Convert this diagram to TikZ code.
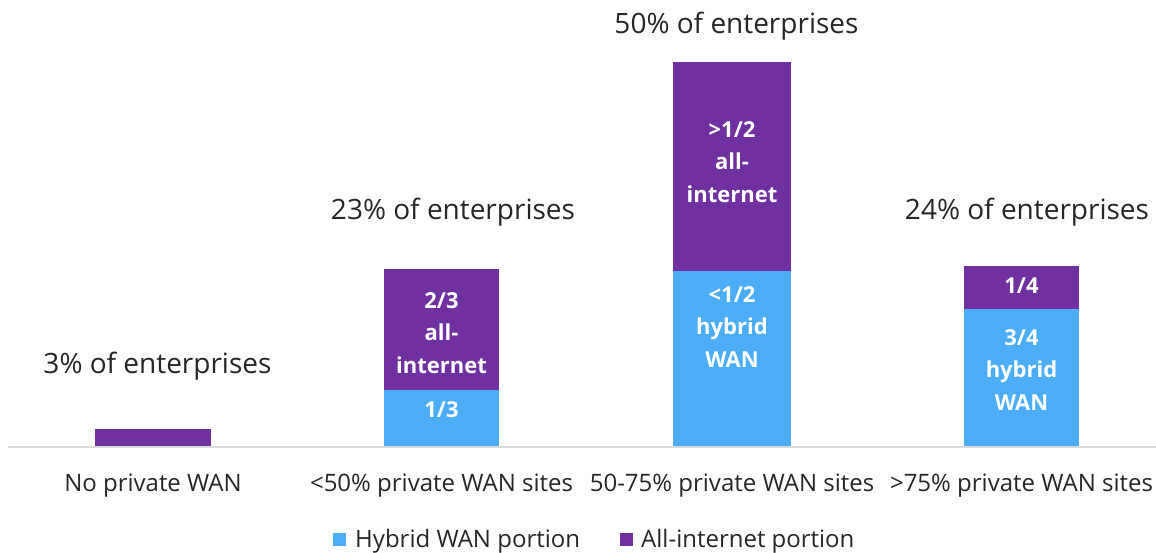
\documentclass[tikz,border=0pt]{standalone}
\usepackage{fontspec}
\setmainfont{Open Sans}
\definecolor{hyb}{HTML}{4BACF8}
\definecolor{alli}{HTML}{7030A0}
\definecolor{axisgray}{HTML}{D9D9D9}
\begin{document}
\begin{tikzpicture}[x=1pt,y=-1pt,
  barlbl/.style={text=white,font=\fontsize{22}{32.5}\selectfont\bfseries,align=center,inner sep=0pt},
  toplbl/.style={anchor=base,inner sep=0pt,font=\fontsize{28}{30}\selectfont,text=black!85},
  catlbl/.style={anchor=base,inner sep=0pt,font=\fontsize{24}{26}\selectfont,text=black!85},
  leglbl/.style={anchor=base west,inner sep=0pt,font=\fontsize{24}{26}\selectfont,text=black!85}]
\useasboundingbox (0,0) rectangle (1156,552);
% axis
\draw[axisgray,line width=2pt] (8,446.5) -- (1156,446.5);
% bar 1
\fill[alli] (95,429) rectangle (211,445.5);
% bar 2
\fill[hyb] (384,390) rectangle (499,445.5);
\fill[alli] (384,269) rectangle (499,390);
% bar 3
\fill[hyb] (673,271) rectangle (791,445.5);
\fill[alli] (673,62) rectangle (791,271);
% bar 4
\fill[hyb] (964,309) rectangle (1079,445.5);
\fill[alli] (964,266) rectangle (1079,309);
% bar labels
\node[barlbl] (l2a) at (441.5,333) {2/3\\all-\\internet};
\node[barlbl] (l2h) at (441.5,410) {1/3};
\node[barlbl] (l3a) at (732,162) {>1/2\\all-\\internet};
\node[barlbl] (l3h) at (732,327) {<1/2\\hybrid\\WAN};
\node[barlbl] (l4a) at (1021.5,286) {1/4};
\node[barlbl] (l4h) at (1021.5,370) {3/4\\hybrid\\WAN};
% top labels
\node[toplbl] (t1) at (157.5,373) {3\% of enterprises};
\node[toplbl] (t2) at (453,219.5) {23\% of enterprises};
\node[toplbl] (t3) at (736.5,33) {50\% of enterprises};
\node[toplbl] (t4) at (1027,219.5) {24\% of enterprises};
% category labels
\node[catlbl] (c1) at (153,491) {No private WAN};
\node[catlbl] (c2) at (441.5,491) {<50\% private WAN sites};
\node[catlbl] (c3) at (732,491) {50-75\% private WAN sites};
\node[catlbl] (c4) at (1021.5,491) {>75\% private WAN sites};
% legend
\fill[hyb] (333,533) rectangle (345.5,546);
\node[leglbl] (g1) at (355,547) {Hybrid WAN portion};
\fill[alli] (619.5,533) rectangle (633,546);
\node[leglbl] (g2) at (641,547) {All-internet portion};
\end{tikzpicture}
\end{document}
